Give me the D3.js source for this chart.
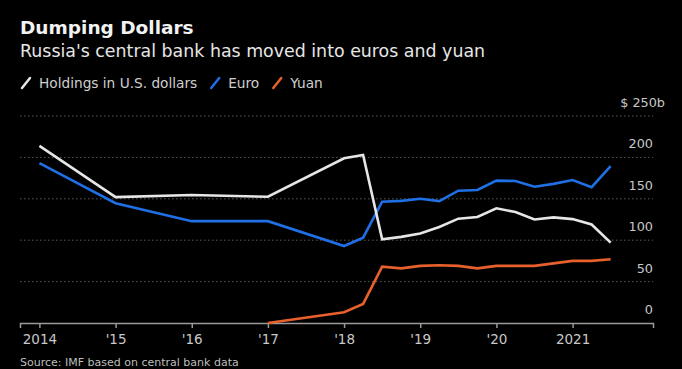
<!DOCTYPE html>
<html>
<head>
<meta charset="utf-8">
<script src="https://cdn.jsdelivr.net/npm/d3@7"></script>
<style>
  html, body { margin: 0; padding: 0; background: #000; }
  svg { display: block; }
  text { font-family: "DejaVu Sans", sans-serif; }
</style>
</head>
<body>
<svg id="chart" width="682" height="369"></svg>
<script>
// ---- data ----
const dates = [2014, 2015, 2016, 2017, 2018, 2018.25, 2018.5, 2018.75, 2019, 2019.25, 2019.5, 2019.75, 2020, 2020.25, 2020.5, 2020.75, 2021, 2021.25, 2021.5];
const usdValues = [214, 152, 154.5, 152.5, 199, 203, 101, 104, 108, 116, 126, 128, 138.5, 134, 125, 127.5, 125.5, 119, 97];
const euroValues = [193, 144.6, 123, 123, 93, 103, 146.5, 147.5, 150, 147.3, 159.8, 160.6, 172, 171.5, 164.6, 168, 172.7, 164, 189.6];
const yuanValues = [null, null, null, 0, 13, 23, 68, 66, 69, 69.7, 69, 66, 69, 69, 69, 72, 75, 75, 77];
const seriesNames = ["Holdings in U.S. dollars", "Euro", "Yuan"];
const seriesColors = ["#e6e6e6", "#1f6fe5", "#e8602c"];
const yTicks = [0, 50, 100, 150, 200, 250];
const yTickLabels = ["0", "50", "100", "150", "200", "$ 250b"];
const xTicks = [2014, 2015, 2016, 2017, 2018, 2019, 2020, 2021];
const xTickLabels = ["2014", "'15", "'16", "'17", "'18", "'19", "'20", "2021"];
const titleText = "Dumping Dollars";
const subtitleText = "Russia's central bank has moved into euros and yuan";
const sourceText = "Source: IMF based on central bank data";

// ---- layout ----
const svg = d3.select("#chart");
const plotLeft = 20, plotRight = 653, plotTop = 116, plotBottom = 323;
const x = d3.scaleLinear().domain([2013.745, 2022.056]).range([plotLeft, plotRight]);
const y = d3.scaleLinear().domain([0, 250]).range([plotBottom, plotTop]);

svg.append("rect").attr("width", 682).attr("height", 369).attr("fill", "#000");

// title
svg.append("text").attr("x", 20).attr("y", 34).attr("fill", "#f2f2f2")
  .attr("font-size", 18.5).attr("font-weight", 700).text(titleText);
svg.append("text").attr("x", 20).attr("y", 57).attr("fill", "#e6e6e6")
  .attr("font-size", 17.4).text(subtitleText);

// legend
const legend = svg.append("g");
let lx = 22;
seriesNames.forEach((name, i) => {
  legend.append("line").attr("x1", lx).attr("y1", 88).attr("x2", lx + 8).attr("y2", 78)
    .attr("stroke", seriesColors[i]).attr("stroke-width", 2.5).attr("stroke-linecap", "round");
  const t = legend.append("text").attr("x", lx + 17).attr("y", 88).attr("fill", "#cfcfcf")
    .attr("font-size", 13.7).text(name);
  lx += 17 + t.node().getComputedTextLength() + 14;
});

// gridlines
const grid = svg.append("g");
yTicks.filter(d => d > 0).forEach(d => {
  grid.append("line").attr("x1", plotLeft).attr("x2", plotRight).attr("y1", y(d)).attr("y2", y(d))
    .attr("stroke", "#5a5a5a").attr("stroke-width", 1).attr("stroke-dasharray", "1.5,2.5");
});

// y labels
yTicks.forEach((d, i) => {
  const lab = svg.append("text").attr("y", y(d) - 9).attr("fill", "#c8c8c8")
    .attr("font-size", 12.8).attr("text-anchor", "end").text(yTickLabels[i]);
  lab.attr("x", d === 250 ? 665 : 653);
});

// x axis
const xAxis = d3.axisBottom(x).tickValues(xTicks).tickFormat((d, i) => xTickLabels[i]).tickSize(5).tickPadding(6);
const gx = svg.append("g").attr("transform", `translate(0,${plotBottom})`).call(xAxis);
gx.select(".domain").attr("stroke", "#9a9a9a").attr("stroke-width", 1.5);
gx.selectAll(".tick line").attr("stroke", "#9a9a9a").attr("stroke-width", 1.5);
gx.selectAll(".tick text").attr("fill", "#c8c8c8").attr("font-size", 13.5).attr("font-family", "DejaVu Sans, sans-serif");

// lines
const allSeries = [usdValues, euroValues, yuanValues];
const lineGen = d3.line().defined(d => d[1] !== null).x(d => x(d[0])).y(d => y(d[1]));
[1, 2, 0].forEach(i => {
  const pts = dates.map((dt, j) => [dt, allSeries[i][j]]);
  svg.append("path").datum(pts).attr("d", lineGen).attr("fill", "none")
    .attr("stroke", seriesColors[i]).attr("stroke-width", 2.6).attr("stroke-linejoin", "miter");
});

// source
svg.append("text").attr("x", 20).attr("y", 366).attr("fill", "#bdbdbd")
  .attr("font-size", 11).text(sourceText);
</script>
</body>
</html>
